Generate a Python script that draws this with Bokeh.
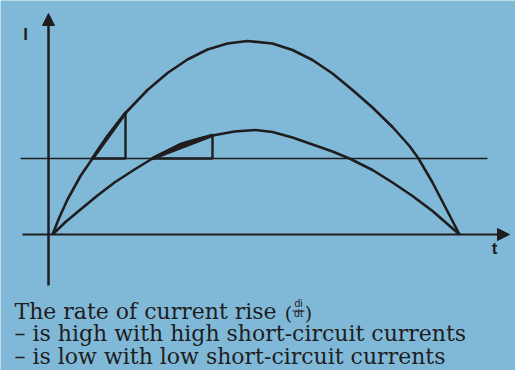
from bokeh.plotting import figure
from bokeh.models import Range1d, Arrow, NormalHead
from bokeh.embed import file_html
from bokeh.resources import INLINE
from bokeh.core.properties import value

# ---- data (time t and current I) ----
t_big = [0, 7, 15, 28, 40, 55, 73, 95, 115, 135, 155, 175, 195, 220, 240, 260, 280, 300, 320, 340, 357, 366, 380, 393, 407]
i_big = [0, 17.5, 35, 58.5, 76, 98, 121.5, 144.5, 161.5, 175, 185, 191, 193.5, 191, 184.5, 174.5, 161, 144.5, 127, 107.5, 88.5, 76, 52, 27, 0]

t_small = [0, 13, 28, 45, 62, 82, 100, 115, 128, 145, 160, 182, 203, 220, 240, 260, 280, 297, 320, 340, 360, 380, 407]
i_small = [0, 12.5, 25, 39, 52, 65, 76, 83.5, 90, 95, 99, 103, 104.5, 102.5, 97, 90, 83, 76, 64.5, 52, 38.5, 23.5, 0]

level = 76                 # horizontal reference current
level_span = [-32, 435]    # extent of the reference line
tri_big = [40, 73]         # di/dt triangle on the high current curve
tri_small = [100, 160]     # di/dt triangle on the low current curve

axis_y_label = "I"
axis_x_label = "t"
caption = ["The rate of current rise",
           "\u2013 is high with high short-circuit currents",
           "\u2013 is low with low short-circuit currents"]

BG = "#80b9d8"
INK = "#1f1d1e"

p = figure(width=515, height=370, x_range=Range1d(-52, 463), y_range=Range1d(-136, 234),
           output_backend="svg", toolbar_location=None, min_border=0,
           background_fill_color=BG, border_fill_color=BG, outline_line_color=None)
p.axis.visible = False
p.grid.visible = False

# axes with arrow heads
p.add_layout(Arrow(x_start=-4, y_start=-51, x_end=-4, y_end=221, line_color=INK, line_width=2.5,
                   end=NormalHead(size=12, fill_color=INK, line_color=INK, line_width=1)))
p.add_layout(Arrow(x_start=-30, y_start=0, x_end=457, y_end=0, line_color=INK, line_width=2,
                   end=NormalHead(size=12, fill_color=INK, line_color=INK, line_width=1)))

# reference level line
p.line(level_span, [level, level], line_color=INK, line_width=1.5)

# curves
p.line(t_big, i_big, line_color=INK, line_width=2.6, line_join="round")
p.line(t_small, i_small, line_color=INK, line_width=2.6, line_join="round")

# triangles
def triangle(ts, iss, span):
    a = ts.index(span[0]); b = ts.index(span[1])
    xs = ts[a:b + 1]; ys = iss[a:b + 1]
    p.patch(xs, ys, fill_color=INK, line_color=INK, line_width=3.4, line_join="round")
    p.line([span[0], span[1], span[1]], [iss[a], iss[a], iss[b]], line_color=INK, line_width=2.4)

triangle(t_big, i_big, tri_big)
triangle(t_small, i_small, tri_small)

# axis labels
p.text(x=[-27], y=[200], text=[axis_y_label], text_font=value("Liberation Sans"), text_font_style="bold",
       text_font_size=value("17px"), text_color=INK, text_align="center", text_baseline="middle")
p.text(x=[442], y=[-14], text=[axis_x_label], text_font=value("Liberation Sans"), text_font_style="bold",
       text_font_size=value("17px"), text_color=INK, text_align="center", text_baseline="middle")

# caption
serif = value("DejaVu Serif")
p.text(x=[-38, -38, -38], y=[-77, -99, -122], text=caption, text_font=serif,
       text_font_size=value("22px"), text_color=INK, text_align="left", text_baseline="alphabetic")
p.text(x=[236, 256], y=[-78.5, -78.5], text=["(", ")"], text_font=serif,
       text_font_size=value("19px"), text_color=INK, text_align="center", text_baseline="alphabetic")
p.text(x=[246, 246], y=[-68, -78.5], text=["di", "dt"], text_font=value("Liberation Sans"),
       text_font_size=value("10.5px"), text_color=INK, text_align="center", text_baseline="alphabetic")
p.line([240, 252], [-76.5, -76.5], line_color=INK, line_width=1)

open("out.html", "w").write(file_html(p, INLINE))
